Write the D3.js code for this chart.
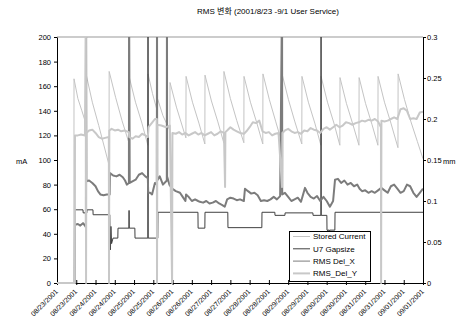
<!DOCTYPE html>
<html>
<head>
<meta charset="utf-8">
<script src="https://cdn.jsdelivr.net/npm/d3@7"></script>
<style>
  body { margin: 0; background: #fff; }
  svg { font-family: "Liberation Sans", Arial, "Noto Sans CJK KR", sans-serif; font-size: 7.5px; }
  text { fill: #000; }
</style>
</head>
<body>
<div id="chart"></div>
<script>
// time axis: 08/23/2001 00:00 .. 09/01/2001 12:00, values keyed by hours from start
const startDate = new Date(2001, 7, 23, 0);
const endDate = new Date(2001, 8, 1, 12);
const leftTicks = [0, 20, 40, 60, 80, 100, 120, 140, 160, 180, 200];
const rightTicks = [0, 0.05, 0.1, 0.15, 0.2, 0.25, 0.3];
const seriesNames = ["Stored Current", "U7 Gapsize", "RMS Del_X", "RMS_Del_Y"];
const titleText = "RMS 변화 (2001/8/23 -9/1 User Service)";

// [hour, mA]
const storedCurrent = [
  [0, 0], [10.5, 0], [10.6, 166], [13, 150], [15.5, 140], [17.9, 130],
  [18.1, 170], [22, 147], [26, 128], [32.2, 97], [32.3, 0], [32.5, 172],
  [36.5, 151], [40.5, 132], [44.8, 114], [44.9, 168], [48.9, 147], [52.9, 130],
  [56.6, 112], [56.7, 170], [59.5, 154], [62.2, 141], [62.3, 0], [62.5, 0],
  [62.6, 150], [66, 136], [70.3, 124], [70.4, 163], [74.4, 143], [78.4, 126],
  [80.3, 118], [80.4, 168], [84.4, 147], [88.4, 130], [92.1, 113],
  [92.2, 169], [96.2, 148], [100.2, 131], [103.9, 114],
  [104, 172], [108, 150], [112, 132], [116.4, 114],
  [116.5, 168], [120.5, 147], [124.5, 130], [128.2, 113],
  [128.3, 170], [132.3, 149], [136.3, 131], [140.1, 114],
  [140.2, 170], [144.2, 149], [148.2, 131], [152.5, 113],
  [152.6, 168], [156.6, 147], [160.6, 130], [164.4, 112],
  [164.5, 168], [168.5, 147], [172.5, 130], [176.2, 112],
  [176.3, 167], [180.3, 146], [184.3, 129], [188.1, 112],
  [188.2, 167], [192.2, 146], [196.2, 129], [199.9, 112],
  [200, 168], [204, 147], [208, 130], [212.4, 110],
  [212.5, 170], [216.5, 149], [220.5, 131], [224.5, 115], [228, 101]
];

// [hour, value on left axis]
const u7Gapsize = [
  [0, 0], [11.1, 0], [11.2, 59.5], [16.2, 59.5], [16.3, 57], [18.6, 57],
  [18.7, 59.5], [22.4, 59.5], [22.5, 55.5], [32.9, 55.5], [33, 42], [33.3, 27],
  [33.6, 46], [34, 32], [34.9, 36.5], [37.9, 36.5], [38, 44.6], [44.8, 44.6],
  [44.9, 59], [45, 44.6], [48.5, 44.6], [48.6, 36.5], [56.6, 36.5], [56.7, 250],
  [56.8, 36.5], [62.8, 36.5], [62.9, 57.5], [87.8, 57.5], [87.9, 44.6],
  [92.1, 44.6], [92.2, 57.5], [106.4, 57.5], [106.5, 45], [127.6, 45],
  [127.7, 57.5], [135.7, 57.5], [135.8, 55], [142, 55], [142.1, 57], [159.4, 57],
  [159.5, 55], [164.4, 55], [164.5, 250], [164.6, 55], [168.1, 55], [168.2, 43],
  [168.5, 43], [168.6, 20], [168.8, 43], [169.6, 43], [169.7, 25], [169.9, 43],
  [173.1, 43], [173.2, 57.5], [228, 57.5]
];

// [hour, mm]
const rmsDelX = [
  [0, 0], [11.1, 0], [11.2, 0.071], [13, 0.072], [14.5, 0.07], [16.2, 0.073],
  [17.4, 0.07], [18, 0.068], [18.1, 0.35], [18.3, 0.124], [20, 0.125], [22, 0.122],
  [24, 0.118], [25.5, 0.112], [27, 0.108], [29, 0.107], [31, 0.108], [32.8, 0.108],
  [33, 0.134], [35, 0.131], [37, 0.13], [39, 0.132], [41, 0.129], [42.4, 0.125],
  [43.5, 0.12], [44.8, 0.122], [44.9, 0.35], [45.3, 0.122], [47, 0.124],
  [49, 0.126], [51, 0.132], [53, 0.134], [55, 0.13], [56.6, 0.128], [56.8, 0.11],
  [58, 0.11], [59.2, 0.108], [61, 0.122], [62.2, 0.12], [62.3, 0.35], [62.4, 0.125],
  [64, 0.13], [66, 0.12], [68.4, 0.125], [68.5, 0.35], [68.6, 0.13], [70, 0.12],
  [71.7, 0.115], [74, 0.112], [76.6, 0.11], [78, 0.106], [80, 0.1], [80.4, 0.108],
  [82, 0.105], [84, 0.1], [86, 0.102], [87.9, 0.1], [89, 0.099], [91, 0.098],
  [93, 0.1], [95, 0.097], [97, 0.098], [99, 0.1], [101, 0.097], [103, 0.095],
  [104.5, 0.093], [106, 0.102], [108, 0.104], [110, 0.103], [112, 0.101],
  [114, 0.102], [116.4, 0.1], [117.1, 0.115], [119, 0.112], [121, 0.109],
  [123, 0.11], [125, 0.107], [127, 0.1], [129, 0.101], [131, 0.1], [133, 0.102],
  [135, 0.105], [137, 0.102], [139, 0.106], [140.2, 0.35], [140.3, 0.108],
  [142, 0.11], [144, 0.105], [146, 0.1], [148, 0.102], [150, 0.104], [152, 0.099],
  [154.5, 0.116], [156, 0.11], [158, 0.105], [160, 0.103], [162, 0.106],
  [164, 0.1], [166, 0.105], [168, 0.1], [170, 0.093], [172, 0.1], [173.2, 0.126],
  [175, 0.127], [177, 0.122], [179, 0.125], [181, 0.12], [183, 0.122],
  [185, 0.118], [187, 0.12], [188.5, 0.115], [190, 0.112], [192, 0.113],
  [194, 0.11], [196, 0.112], [198, 0.11], [200, 0.113], [202, 0.116],
  [204, 0.113], [206, 0.11], [208, 0.118], [210, 0.12], [212, 0.115], [214, 0.11],
  [216, 0.112], [218, 0.12], [220, 0.118], [222, 0.11], [224, 0.105],
  [226, 0.11], [228, 0.115]
];

// [hour, mm]
const rmsDelY = [
  [0, 0], [11.1, 0], [11.2, 0.18], [13, 0.18], [15, 0.181], [17.4, 0.18],
  [18, 0.35], [18.1, 0], [18.3, 0.183], [20, 0.186], [22, 0.187], [24, 0.183],
  [26, 0.178], [28, 0.176], [30, 0.177], [32.3, 0.178], [32.4, 0], [32.6, 0.186],
  [34, 0.188], [36, 0.186], [38, 0.187], [40, 0.185], [42, 0.186], [44.8, 0.184],
  [45, 0.178], [47, 0.176], [49, 0.179], [51, 0.178], [53, 0.182], [55, 0.18],
  [56.6, 0.178], [57, 0.19], [59, 0.195], [61, 0.2], [62.2, 0.2], [62.3, 0],
  [62.5, 0.193], [65, 0.192], [68, 0.19], [70.3, 0.192], [71.7, 0], [71.9, 0.183],
  [74, 0.182], [76, 0.184], [78, 0.181], [80, 0.183], [82, 0.18], [84, 0.182],
  [86, 0.184], [88, 0.181], [90, 0.183], [92, 0.18], [94, 0.182], [96, 0.184],
  [98, 0.18], [100, 0.182], [102, 0.185], [104, 0.183], [104.7, 0.117],
  [104.9, 0.184], [106, 0.186], [108, 0.19], [110, 0.187], [112, 0.185],
  [114, 0.183], [116.5, 0.182], [118, 0.185], [120, 0.19], [122, 0.196],
  [124, 0.195], [126, 0.198], [128, 0.185], [130, 0.183], [132, 0.184],
  [134, 0.18], [136, 0.182], [138, 0.183], [140.2, 0.117], [140.4, 0.183],
  [142, 0.186], [144, 0.188], [146, 0.185], [148, 0.183], [150, 0.184],
  [152, 0.182], [154, 0.186], [156, 0.185], [158, 0.189], [160, 0.187],
  [162, 0.186], [164, 0.183], [166, 0.188], [168, 0.19], [170, 0.187],
  [172, 0.19], [174, 0.193], [176, 0.19], [178, 0.192], [180, 0.196],
  [182, 0.195], [184, 0.193], [186, 0.195], [188, 0.196], [190, 0.198],
  [192, 0.197], [194, 0.199], [196, 0.198], [198, 0.2], [200, 0.197],
  [201.8, 0.19], [201.9, 0], [202.1, 0.198], [204, 0.197], [206, 0.198],
  [208, 0.2], [210, 0.202], [212, 0.2], [214, 0.212], [216, 0.213], [218, 0.21],
  [220, 0.2], [222, 0.201], [224, 0.2], [226, 0.208], [228, 0.209]
];

const width = 458;
const height = 329;
const margin = { top: 37, left: 57, bottom: 46, right: 35 };
const iwidth = width - margin.left - margin.right;
const iheight = height - margin.top - margin.bottom;

const toDate = (h) => new Date(startDate.getTime() + h * 3600000);

const svg = d3.select("#chart").append("svg")
  .attr("width", width)
  .attr("height", height);

svg.append("text")
  .attr("x", 268)
  .attr("y", 14)
  .attr("text-anchor", "middle")
  .style("font-size", "8px")
  .text(titleText);

const x = d3.scaleTime().domain([startDate, endDate]).range([0, iwidth]);
const yLeft = d3.scaleLinear().domain([0, 200]).range([iheight, 0]);
const yRight = d3.scaleLinear().domain([0, 0.3]).range([iheight, 0]);

const g = svg.append("g").attr("transform", `translate(${margin.left},${margin.top})`);

// plot area border (top edge shows gray)
g.append("line")
  .attr("x1", 0).attr("x2", iwidth).attr("y1", 0).attr("y2", 0)
  .attr("stroke", "#999").attr("stroke-width", 1);

// axes
const xTicks = d3.timeHour.every(12).range(startDate, d3.timeHour.offset(endDate, 1));

const xAxis = g.append("g")
  .attr("class", "x--axis")
  .attr("transform", `translate(0,${iheight})`)
  .call(d3.axisBottom(x).tickValues(xTicks).tickSizeInner(2).tickSizeOuter(0)
    .tickFormat(d3.timeFormat("%m/%d/%Y")));
xAxis.selectAll(".tick line").attr("y1", -3);
xAxis.selectAll(".tick text")
  .attr("text-anchor", "end")
  .attr("dy", null)
  .attr("y", 0)
  .attr("transform", "translate(1,9) rotate(-45)");

g.append("g").attr("class", "y--axis")
  .call(d3.axisLeft(yLeft).tickValues(leftTicks).tickSize(3).tickPadding(3).tickSizeOuter(0));

g.append("g").attr("class", "y2--axis")
  .attr("transform", `translate(${iwidth},0)`)
  .call(d3.axisRight(yRight).tickValues(rightTicks).tickSize(3).tickPadding(1).tickSizeOuter(0)
    .tickFormat((d) => String(+d.toFixed(2))));

svg.selectAll(".domain").attr("stroke", "#000");
svg.selectAll(".tick line").attr("stroke", "#000");
svg.selectAll(".y--axis .tick text, .y2--axis .tick text").attr("fill", "#000").style("font-size", "7.5px");
svg.selectAll(".x--axis .tick text").attr("fill", "#000").style("font-size", "7px");

svg.append("text").attr("x", 16).attr("y", 163.5).text("mA");
svg.append("text").attr("x", 443).attr("y", 163.5).text("mm");

// series
svg.append("clipPath").attr("id", "plotclip")
  .append("rect").attr("x", 0).attr("y", 0).attr("width", iwidth).attr("height", iheight + 1);

const plot = g.append("g").attr("clip-path", "url(#plotclip)");

const lineLeft = d3.line().x((d) => x(toDate(d[0]))).y((d) => yLeft(d[1]));
const lineRight = d3.line().x((d) => x(toDate(d[0]))).y((d) => yRight(d[1]));

const styles = [
  { stroke: "#c4c4c4", width: 1 },
  { stroke: "#404040", width: 1 },
  { stroke: "#7c7c7c", width: 2 },
  { stroke: "#c8c8c8", width: 2 }
];

plot.append("path").datum(storedCurrent).attr("d", lineLeft)
  .attr("fill", "none").attr("stroke", styles[0].stroke).attr("stroke-width", styles[0].width);
plot.append("path").datum(u7Gapsize).attr("d", lineLeft)
  .attr("fill", "none").attr("stroke", styles[1].stroke).attr("stroke-width", styles[1].width);
plot.append("path").datum(rmsDelX).attr("d", lineRight)
  .attr("fill", "none").attr("stroke", styles[2].stroke).attr("stroke-width", styles[2].width)
  .attr("stroke-linejoin", "round");
plot.append("path").datum(rmsDelY).attr("d", lineRight)
  .attr("fill", "none").attr("stroke", styles[3].stroke).attr("stroke-width", styles[3].width)
  .attr("stroke-linejoin", "round");

// legend
const legend = svg.append("g").attr("transform", "translate(289,231)");
legend.append("rect")
  .attr("x", 0.5).attr("y", 0.5).attr("width", 81).attr("height", 50)
  .attr("fill", "#fff").attr("stroke", "#000");
seriesNames.forEach((name, i) => {
  const ly = 5.5 + i * 12.3;
  legend.append("line")
    .attr("x1", 4).attr("x2", 21).attr("y1", ly).attr("y2", ly)
    .attr("stroke", styles[i].stroke).attr("stroke-width", i === 3 ? 2 : 1);
  legend.append("text").attr("x", 24).attr("y", ly + 2.8)
    .style("font-size", "8px").text(name);
});
</script>
</body>
</html>
